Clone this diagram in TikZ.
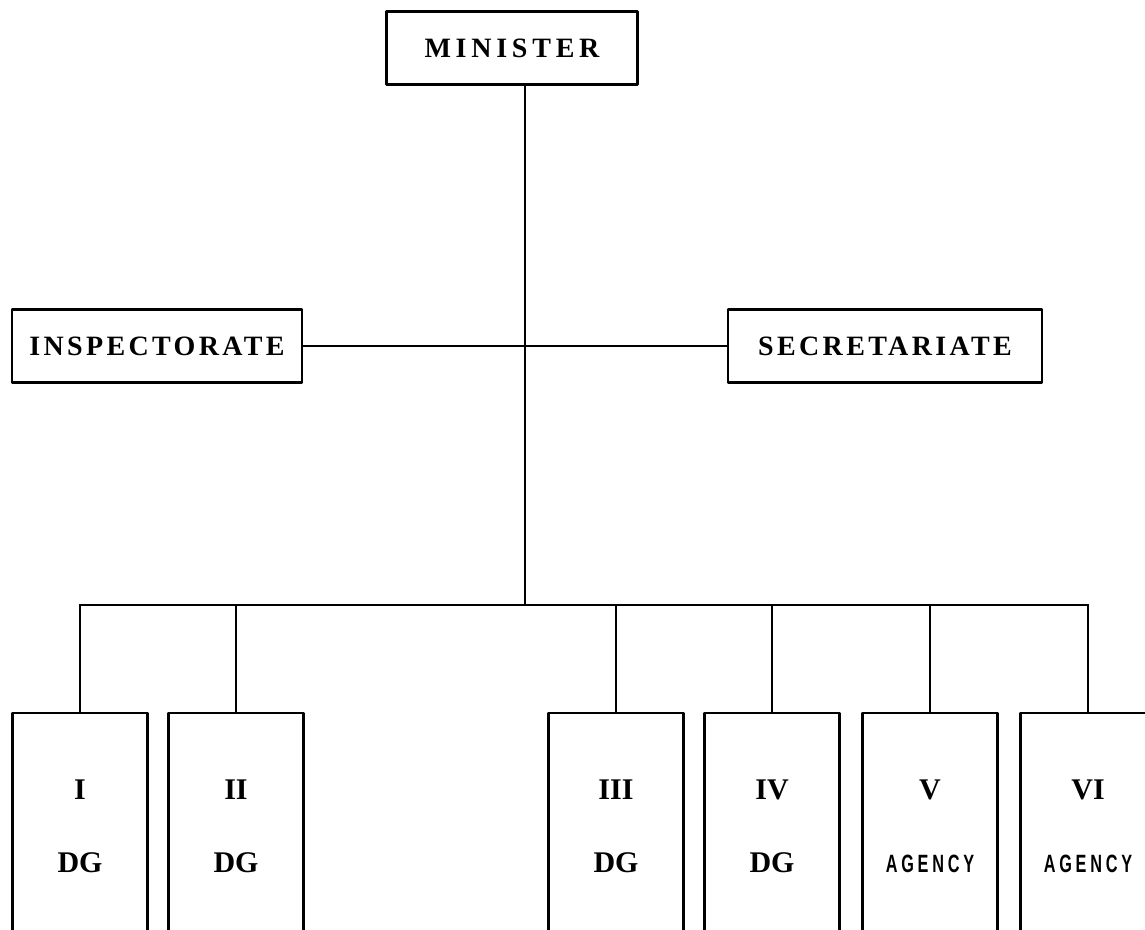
\documentclass[tikz,border=0pt]{standalone}
\usepackage{fontspec}
\setmainfont{Liberation Serif}
\newfontfamily\wideserif[LetterSpace=12]{Liberation Serif}
\newfontfamily\widerserif[LetterSpace=17]{Liberation Serif}
\newfontfamily\narrowsans[FakeStretch=0.65,LetterSpace=15]{Liberation Sans}
\newcommand{\rnum}[1]{{\fontsize{15}{36.5}\selectfont #1}}

\begin{document}
\begin{tikzpicture}[line cap=round, line join=round, x=0.5pt, y=-0.5pt,
    unit/.style={draw, line width=1.1pt, inner sep=0pt},
    office/.style={unit, minimum width=145pt, minimum height=36.5pt, font=\wideserif\bfseries\fontsize{14}{16}\selectfont},
    branch/.style={unit, anchor=north, minimum width=67.5pt, minimum height=113pt, align=center, font=\bfseries\fontsize{15}{36.5}\selectfont},
    stem/.style={line width=1.2pt},
    link/.style={line width=0.8pt}]
  \useasboundingbox (0,0) rectangle (1145,930);
  \clip (0,0) rectangle (1145,930);
  \node[office, minimum width=125.5pt, font=\widerserif\bfseries\fontsize{14}{16}\selectfont] (minister) at (512,48) {MINISTER};
  \node[office] (insp) at (157,346) {INSPECTORATE};
  \node[office, minimum width=157pt] (secr) at (885,346) {SECRETARIATE};
  \coordinate (hub) at (525,605);
  \node[branch] (dg1) at (80,712) {\rnum{I}\\DG};
  \node[branch] (dg2) at (236,712) {\rnum{II}\\DG};
  \node[branch] (dg3) at (616,712) {\rnum{III}\\DG};
  \node[branch] (dg4) at (772,712) {\rnum{IV}\\DG};
  \node[branch] (ag5) at (930,712) {\rnum{V}\\{\narrowsans\fontsize{12.5}{36.5}\selectfont AGENCY}};
  \node[branch] (ag6) at (1088,712) {\rnum{VI}\\{\narrowsans\fontsize{12.5}{36.5}\selectfont AGENCY}};
  \draw[stem] (minister.south -| hub) -- (hub);
  \draw[link] (insp.east) -- (secr.west);
  \draw[stem] (dg1.north |- hub) -- (ag6.north |- hub);
  \foreach \b in {dg1,dg2,dg3,dg4,ag5,ag6}
    \draw[stem] (\b.north) -- (\b.north |- hub);
\end{tikzpicture}
\end{document}
